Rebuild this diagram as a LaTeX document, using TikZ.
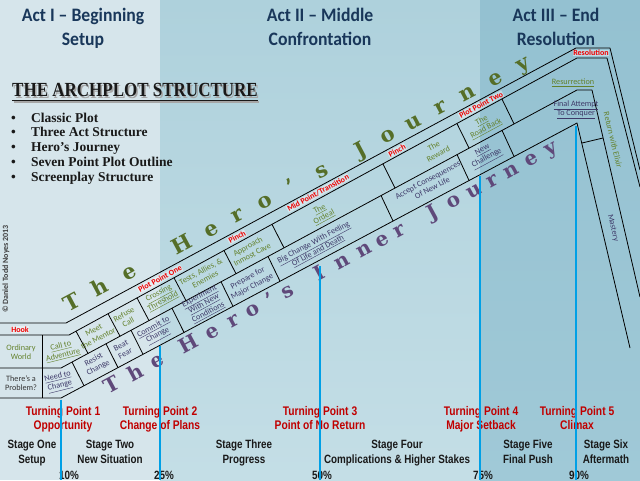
\documentclass[tikz,border=0pt]{standalone}
\usepackage{fontspec}
\setmainfont{Carlito}
\newfontfamily\fCal{Carlito}
\newfontfamily\fHead[FakeStretch=0.93]{Carlito}
\newfontfamily\fNar[FakeStretch=0.82]{Liberation Sans}
\newfontfamily\fTitle[FakeStretch=0.85]{Liberation Serif}
\newfontfamily\fTm{Liberation Serif}
\newfontfamily\fBig{DejaVu Serif}
\usetikzlibrary{calc}
\definecolor{actI}{RGB}{214,229,235}
\definecolor{actIIa}{RGB}{174,209,220}
\definecolor{actIIb}{RGB}{196,222,230}
\definecolor{actIIIa}{RGB}{148,193,209}
\definecolor{actIIIb}{RGB}{160,201,215}
\definecolor{navy}{RGB}{25,55,90}
\definecolor{olive}{RGB}{100,130,45}
\definecolor{bigolive}{RGB}{85,110,40}
\definecolor{plum}{RGB}{62,58,105}
\definecolor{bigplum}{RGB}{95,73,122}
\definecolor{tpred}{RGB}{192,0,0}
\definecolor{lblred}{RGB}{240,0,0}
\definecolor{tpblue}{RGB}{0,160,230}
\tikzset{
 band/.style={draw=black, line width=0.8pt, line join=round},
 sep/.style={draw=black, line width=0.8pt},
 redlbl/.style={font=\fCal\bfseries\fontsize{8}{9}\selectfont, text=lblred, inner sep=0.6pt, fill=white, fill opacity=0.4, text opacity=1},
 upcell/.style={font=\fCal\fontsize{8.2}{9.3}\selectfont, text=olive, align=center, inner sep=0pt},
 lowcell/.style={font=\fCal\fontsize{8.2}{9.3}\selectfont, text=plum, align=center, inner sep=0pt},
 bigup/.style={font=\fBig\bfseries\fontsize{21}{21}\selectfont, text=bigolive, anchor=base, inner sep=0pt, rotate=28},
 biglow/.style={font=\fBig\bfseries\fontsize{20}{20}\selectfont, text=bigplum, anchor=base, inner sep=0pt, rotate=28.4},
 acthead/.style={font=\fHead\bfseries\fontsize{19}{20}\selectfont, text=navy, anchor=base, inner sep=0pt},
 tplbl/.style={font=\fNar\bfseries\fontsize{12.5}{14}\selectfont, text=tpred, anchor=base, inner sep=0pt},
 stagelbl/.style={font=\fNar\bfseries\fontsize{12}{14}\selectfont, text=black!90, anchor=base, inner sep=0pt},
 tpline/.style={draw=tpblue, line width=2.6pt},
 bullettxt/.style={font=\fTm\bfseries\fontsize{13.5}{15}\selectfont, anchor=base west, inner sep=0pt, text=black!90},
}
\begin{document}
\begin{tikzpicture}[x=1pt,y=-1pt]
\useasboundingbox (0,0) rectangle (640,480);
\clip (0,0) rectangle (640,480);
% background panels
\fill[actI] (0,0) rectangle (160,480);
\shade[top color=actIIa, bottom color=actIIb] (160,0) rectangle (480,480);
\shade[top color=actIIIa, bottom color=actIIIb] (480,0) rectangle (640,480);
% act headers
\node[acthead] (a1a) at (83,21.5) {Act I – Beginning};
\node[acthead] (a1b) at (83,45) {Setup};
\node[acthead] (a2a) at (320,21.5) {Act II – Middle};
\node[acthead] (a2b) at (320,45) {Confrontation};
\node[acthead] (a3a) at (556,21.5) {Act III – End};
\node[acthead] (a3b) at (556,45) {Resolution};
% title
\node[anchor=base west, inner sep=0pt, text=black!35, font=\fTitle\bfseries\fontsize{20}{22}\selectfont] (tshadow) at (13.5,98) {THE ARCHPLOT STRUCTURE};
\draw[black!35, line width=1.3pt] ([yshift=-3.5pt]tshadow.south west) -- ([yshift=-3.5pt]tshadow.south east);
\node[anchor=base west, inner sep=0pt, text=black!90, font=\fTitle\bfseries\fontsize{20}{22}\selectfont] (title) at (12,96.5) {THE ARCHPLOT STRUCTURE};
\draw[black!90, line width=1.3pt] ([yshift=-3.5pt]title.south west) -- ([yshift=-3.5pt]title.south east);
% bullets
\foreach \yy/\tt [count=\i] in {122/Classic Plot, 136.5/Three Act Structure, 151.5/Hero’s Journey, 166.5/Seven Point Plot Outline, 181/Screenplay Structure}{
  \node[bullettxt, anchor=base] (bul\i) at (13.5,\yy) {•};
  \node[bullettxt] (item\i) at (31,\yy) {\tt};
}
% copyright
\node[rotate=90, font=\fCal\bfseries\fontsize{8}{8}\selectfont, text=black!75, inner sep=0pt] (copy) at (6,269) {© Daniel Todd Noyes 2013};
% big letters
\foreach \ch/\xx in {T/73, h/101, e/130, H/183, e/212, r/238, o/265, ’/292, s/322, J/361, o/388, u/414, r/441, n/468, e/496, y/523}{
  \node[bigup] (hj\xx) at ({\xx+2.6},{290-0.532*(\xx-100)+4.8}) {\ch};
}
\foreach \ch/\xx in {T/113, h/136, e/158, H/189, e/213, r/234, o/253, ’/271, s/288, I/320, n/342, n/364, e/383, r/400, J/433, o/454, u/474, r/493, n/511, e/532, y/551}{
  \node[biglow] (ij\xx) at ({\xx+2.5},{333-0.541*(\xx-212)+4.6}) {\ch};
}
% band lines
\draw[band] (0,323) -- (66,323) -- (576,48) -- (610,48) -- (640,170);
\draw[band] (0,335) -- (69,335) -- (577,58) -- (607,58) -- (640,187);
\draw[band] (0,368) -- (61,368) -- (577,90) -- (592,90) -- (640,297);
\draw[band] (0,398) -- (61,398) -- (577,123) -- (630,348);
\draw[sep] (42,335) -- (42,398);
% upper separators
\draw[sep] (76,331.2) -- (88,353.4);
\draw[sep] (108,313.7) -- (120,336.2);
\draw[sep] (137,297.9) -- (149,320.6);
\draw[sep] (174,277.8) -- (186,300.6);
\draw[sep] (224,250.5) -- (236,273.7);
\draw[sep] (272,224.4) -- (284,247.8);
\draw[sep] (383,163.9) -- (395,187.9);
\draw[sep] (457,123.6) -- (469,148.0);
\draw[sep] (502,99.1) -- (514,123.8);
% lower separators
\draw[sep] (72,362.1) -- (84,385.7);
\draw[sep] (106,343.7) -- (118,367.6);
\draw[sep] (131,330.3) -- (143,354.3);
\draw[sep] (172,308.2) -- (184,332.4);
\draw[sep] (221,281.7) -- (233,306.3);
\draw[sep] (268,256.4) -- (280,281.2);
\draw[sep] (381,195.5) -- (393,220.9);
\draw[sep] (457,154.5) -- (469,180.4);
\draw[sep] (502,130.3) -- (514,156.4);
\draw[sep] (582,143) -- (603,138);
% red labels
\node[redlbl] (hook) at (20,329.5) {Hook};
\node[redlbl, rotate=28.4] (pp1) at (160,279) {Plot Point One};
\node[redlbl, rotate=28.4] (pinch1) at (237,237) {Pinch};
\node[redlbl, rotate=28.4] (mid) at (318,193) {Mid Point/Transition};
\node[redlbl, rotate=28.4] (pinch2) at (397,150.5) {Pinch};
\node[redlbl, rotate=28.4] (pp2) at (481,105) {Plot Point Two};
\node[redlbl] (resol) at (591,53) {Resolution};
% upper cells
\node[upcell] (ow) at (21,352) {Ordinary\\World};
\node[upcell, rotate=14] (cta) at (62,351) {\underline{Call to}\\\underline{Adventure}};
\node[upcell, rotate=28.4] (mtm) at (96,334.5) {Meet\\the Mentor};
\node[upcell, rotate=28.4] (rc) at (126,318.4) {Refuse\\Call};
\node[upcell, rotate=28.4] (ct) at (161,297.5) {\underline{Crossing}\\\underline{Threshold}};
\node[upcell, rotate=28.4] (tae) at (203,275.5) {Tests, Allies, \&\\Enemies};
\node[upcell, rotate=28.4] (aic) at (250,250.5) {Approach\\Inmost Cave};
\node[upcell, rotate=28.4] (ord) at (322,213.5) {\underline{The}\\\underline{Ordeal}};
\node[upcell, rotate=28.4] (rew) at (436,150) {The\\Reward};
\node[upcell, rotate=28.4] (rb) at (484,125) {\underline{The}\\\underline{Road Back}};
\node[upcell] (res) at (573,83) {\underline{Resurrection}};
\node[upcell, rotate=-76.5] (rwe) at (613,140) {Return with Elixir};
% lower cells
\node[lowcell, text=black!80] (tap) at (21,383) {There’s a\\Problem?};
\node[lowcell, rotate=14] (ntc) at (59,382) {\underline{Need to}\\\underline{Change}};
\node[lowcell, rotate=28.4] (rsc) at (96,364) {Resist\\Change};
\node[lowcell, rotate=28.4] (bf) at (123,349.5) {Beat\\Fear};
\node[lowcell, rotate=28.4] (ctc) at (156,332) {\underline{Commit to}\\\underline{Change}};
\node[lowcell, rotate=28.4] (ewn) at (204,304.5) {\underline{Experiment}\\\underline{With New}\\\underline{Conditions}};
\node[lowcell, rotate=28.4] (pmc) at (250,282.5) {Prepare for\\Major Change};
\node[lowcell, rotate=28.4] (bcw) at (316,247) {\underline{Big Change With Feeling}\\\underline{Of Life and Death}};
\node[lowcell, rotate=28.4] (acn) at (430,184) {Accept Consequences\\Of New Life};
\node[lowcell, rotate=28.4] (nch) at (485,155) {\underline{New}\\\underline{Challenge}};
\node[lowcell] (fac) at (576,110) {\underline{Final Attempt}\\\underline{To Conquer}};
\node[lowcell, rotate=-76.5] (mas) at (613,228) {Mastery};
% bottom labels
\node[tplbl] (tp1a) at (63,415) {Turning Point 1};
\node[tplbl] (tp1b) at (63,429.5) {Opportunity};
\node[tplbl] (tp2a) at (160,415) {Turning Point 2};
\node[tplbl] (tp2b) at (160,429.5) {Change of Plans};
\node[tplbl] (tp3a) at (320,415) {Turning Point 3};
\node[tplbl] (tp3b) at (320,429.5) {Point of No Return};
\node[tplbl] (tp4a) at (481,415) {Turning Point 4};
\node[tplbl] (tp4b) at (481,429.5) {Major Setback};
\node[tplbl] (tp5a) at (577,415) {Turning Point 5};
\node[tplbl] (tp5b) at (577,429.5) {Climax};
\node[stagelbl] (s1a) at (32,448) {Stage One};
\node[stagelbl] (s1b) at (32,463) {Setup};
\node[stagelbl] (s2a) at (110,448) {Stage Two};
\node[stagelbl] (s2b) at (110,463) {New Situation};
\node[stagelbl] (s3a) at (244,448) {Stage Three};
\node[stagelbl] (s3b) at (244,463) {Progress};
\node[stagelbl] (s4a) at (397,448) {Stage Four};
\node[stagelbl] (s4b) at (397,463) {Complications \& Higher Stakes};
\node[stagelbl] (s5a) at (528,448) {Stage Five};
\node[stagelbl] (s5b) at (528,463) {Final Push};
\node[stagelbl] (s6a) at (606,448) {Stage Six};
\node[stagelbl] (s6b) at (606,463) {Aftermath};
\node[stagelbl] (p10) at (69,479) {10\%};
\node[stagelbl] (p25) at (164,479) {25\%};
\node[stagelbl] (p50) at (322,479) {50\%};
\node[stagelbl] (p75) at (483,479) {75\%};
\node[stagelbl] (p90) at (579,479) {90\%};
% turning point lines
\coordinate (b10) at (61,480);
\coordinate (b25) at (160,480);
\coordinate (b50) at (320,480);
\coordinate (b75) at (480,480);
\coordinate (b90) at (576,480);
\draw[tpline] (61,399.5) -- (b10);
\draw[tpline] (160,346) -- (b25);
\draw[tpline] (320,266) -- (b50);
\draw[tpline] (480,176) -- (b75);
\draw[tpline] (576,126) -- (b90);
\end{tikzpicture}
\end{document}
